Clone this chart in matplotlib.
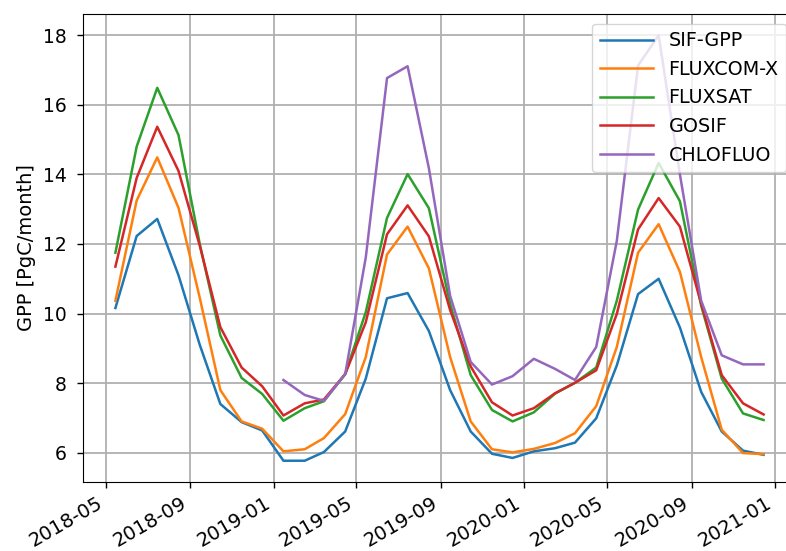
import matplotlib
matplotlib.use("Agg")
import matplotlib.pyplot as plt
import numpy as np
import pandas as pd

# monthly values, stamped mid-month
dates = pd.date_range("2018-05-01", "2020-12-01", freq="MS") + pd.Timedelta(days=14)

sif_gpp = [10.16, 12.23, 12.72, 11.1, 9.1, 7.4, 6.88, 6.64,
           5.77, 5.77, 6.02, 6.61, 8.13, 10.44, 10.59, 9.5,
           7.8, 6.61, 5.97, 5.85, 6.04, 6.13, 6.29, 6.99,
           8.51, 10.56, 11.0, 9.6, 7.75, 6.61, 6.06, 5.94]
fluxcom_x = [10.37, 13.25, 14.49, 13.04, 10.45, 7.8, 6.9, 6.69,
             6.04, 6.1, 6.42, 7.11, 8.75, 11.7, 12.5, 11.3,
             8.75, 6.9, 6.1, 6.01, 6.11, 6.28, 6.56, 7.34,
             9.04, 11.75, 12.57, 11.2, 8.75, 6.66, 5.99, 5.96]
fluxsat = [11.75, 14.8, 16.49, 15.13, 12.0, 9.37, 8.15, 7.69,
           6.92, 7.28, 7.48, 8.26, 10.04, 12.75, 14.01, 13.03,
           10.28, 8.23, 7.23, 6.9, 7.16, 7.7, 8.01, 8.45,
           10.37, 12.99, 14.33, 13.23, 10.23, 8.13, 7.13, 6.94]
gosif = [11.35, 13.9, 15.37, 14.1, 11.95, 9.61, 8.45, 7.91,
         7.07, 7.42, 7.53, 8.26, 9.75, 12.28, 13.11, 12.22,
         10.1, 8.48, 7.45, 7.07, 7.28, 7.71, 8.01, 8.37,
         9.99, 12.42, 13.32, 12.5, 10.28, 8.23, 7.42, 7.1]
# CHLOFLUO only starts in 2019-01
chlofluo = [np.nan] * 8 + [
    8.09, 7.66, 7.49, 8.26, 11.61, 16.77, 17.11, 14.18,
    10.51, 8.61, 7.96, 8.2, 8.7, 8.41, 8.09, 9.04,
    12.09, 17.13, 18.0, 14.0, 10.37, 8.8, 8.54, 8.54]

series = {
    "SIF-GPP": sif_gpp,
    "FLUXCOM-X": fluxcom_x,
    "FLUXSAT": fluxsat,
    "GOSIF": gosif,
    "CHLOFLUO": chlofluo,
}

fig, ax = plt.subplots(figsize=(7.86, 5.51), dpi=100)

for name, vals in series.items():
    ax.plot(dates, vals, label=name, linewidth=1.8)

ax.grid(True, linewidth=1.3)
ax.set_axisbelow(True)
ax.tick_params(axis='both', which='major', labelsize=13.5, length=4.5, width=1.0)
ax.tick_params(axis='x', labelsize=14)
ax.tick_params(axis='y', pad=7)
ax.set_ylabel("GPP [PgC/month]", size=14, labelpad=5)
ax.legend(loc="upper right", fontsize=13.8, handlelength=2.8)
fig.autofmt_xdate()

# axes runs slightly past the right edge of the canvas
ax.set_position([83 / 786, 1 - 482 / 551, 713 / 786, 468 / 551])

fig.savefig("out.png", dpi=100)
